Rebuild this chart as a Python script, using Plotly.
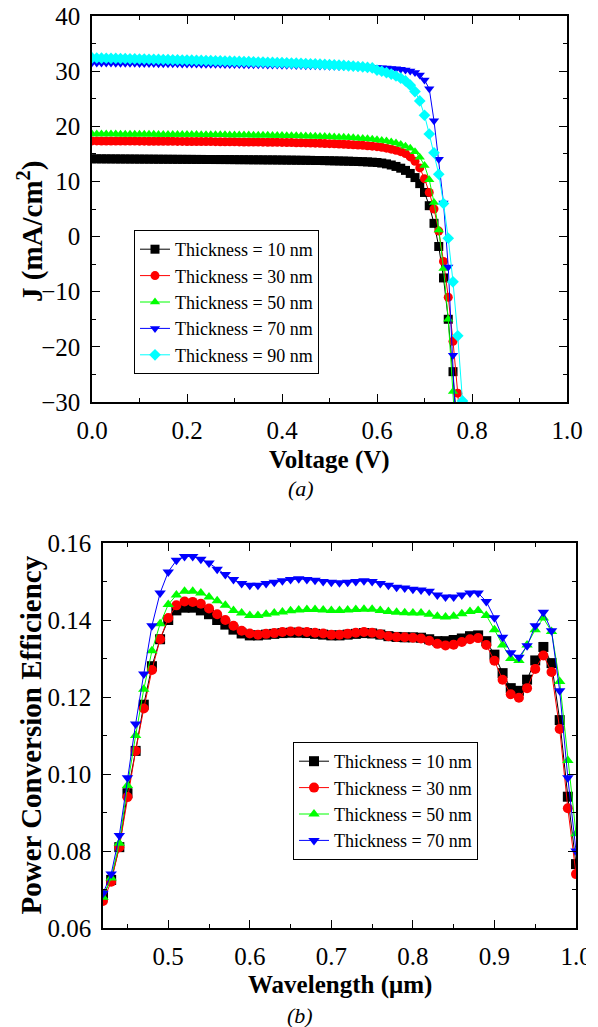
import plotly.graph_objects as go

W, H = 598, 1027
SERIF = "Liberation Serif, Times New Roman, serif"

# ---------------- (a) J-V data ----------------
voltage = [0.00, 0.01, 0.02, 0.03, 0.04, 0.05, 0.06, 0.07, 0.08, 0.09,
           0.10, 0.11, 0.12, 0.13, 0.14, 0.15, 0.16, 0.17, 0.18, 0.19,
           0.20, 0.21, 0.22, 0.23, 0.24, 0.25, 0.26, 0.27, 0.28, 0.29,
           0.30, 0.31, 0.32, 0.33, 0.34, 0.35, 0.36, 0.37, 0.38, 0.39,
           0.40, 0.41, 0.42, 0.43, 0.44, 0.45, 0.46, 0.47, 0.48, 0.49,
           0.50, 0.51, 0.52, 0.53, 0.54, 0.55, 0.56, 0.57, 0.58, 0.59,
           0.60, 0.61, 0.62, 0.63, 0.64, 0.65, 0.66, 0.67, 0.68, 0.69,
           0.70, 0.71, 0.72, 0.73, 0.74, 0.75, 0.76, 0.77, 0.78, 0.79]

j_10 = [14.10, 14.10, 14.09, 14.09, 14.08, 14.08, 14.07, 14.07, 14.06, 14.06,
        14.05, 14.05, 14.04, 14.04, 14.03, 14.03, 14.02, 14.02, 14.01, 14.01,
        14.00, 14.00, 13.99, 13.99, 13.98, 13.98, 13.97, 13.97, 13.96, 13.96,
        13.95, 13.94, 13.94, 13.93, 13.92, 13.92, 13.91, 13.90, 13.90, 13.89,
        13.88, 13.87, 13.86, 13.85, 13.84, 13.83, 13.82, 13.80, 13.79, 13.77,
        13.75, 13.73, 13.71, 13.69, 13.67, 13.64, 13.61, 13.58, 13.54, 13.49,
        13.43, 13.33, 13.18, 12.98, 12.72, 12.40, 12.00, 11.45, 10.70, 9.60,
        8.00, 5.60, 2.40, -1.80, -7.50, -15.00, -24.50, -35.50]

j_30 = [17.35, 17.35, 17.34, 17.34, 17.33, 17.33, 17.32, 17.32, 17.31, 17.31,
        17.30, 17.30, 17.29, 17.29, 17.28, 17.28, 17.27, 17.27, 17.26, 17.26,
        17.25, 17.24, 17.24, 17.23, 17.22, 17.22, 17.21, 17.20, 17.20, 17.19,
        17.18, 17.17, 17.16, 17.15, 17.14, 17.13, 17.12, 17.11, 17.10, 17.09,
        17.07, 17.06, 17.04, 17.02, 17.00, 16.98, 16.96, 16.94, 16.91, 16.88,
        16.85, 16.82, 16.78, 16.74, 16.70, 16.65, 16.60, 16.54, 16.47, 16.39,
        16.30, 16.18, 16.03, 15.85, 15.64, 15.40, 15.05, 14.45, 13.65, 12.45,
        10.50, 8.00, 5.00, 1.00, -4.50, -11.00, -19.00, -28.40, -40.00]

j_50 = [18.60, 18.60, 18.59, 18.59, 18.58, 18.58, 18.57, 18.57, 18.56, 18.56,
        18.55, 18.55, 18.54, 18.54, 18.53, 18.53, 18.52, 18.52, 18.51, 18.51,
        18.50, 18.49, 18.49, 18.48, 18.47, 18.47, 18.46, 18.45, 18.45, 18.44,
        18.43, 18.42, 18.41, 18.40, 18.39, 18.38, 18.37, 18.36, 18.35, 18.33,
        18.32, 18.30, 18.29, 18.27, 18.25, 18.23, 18.21, 18.19, 18.16, 18.13,
        18.10, 18.07, 18.03, 17.99, 17.95, 17.90, 17.85, 17.79, 17.72, 17.64,
        17.55, 17.44, 17.31, 17.15, 16.95, 16.70, 16.40, 16.00, 15.40, 14.40,
        12.90, 10.30, 6.20, 1.20, -5.80, -15.00, -28.10, -42.00]

j_70 = [31.50, 31.49, 31.48, 31.47, 31.46, 31.45, 31.44, 31.43, 31.42, 31.41,
        31.40, 31.39, 31.38, 31.37, 31.36, 31.35, 31.34, 31.33, 31.32, 31.31,
        31.30, 31.29, 31.28, 31.27, 31.26, 31.25, 31.24, 31.23, 31.22, 31.21,
        31.20, 31.19, 31.18, 31.17, 31.16, 31.15, 31.14, 31.12, 31.11, 31.10,
        31.08, 31.07, 31.05, 31.04, 31.02, 31.00, 30.98, 30.96, 30.94, 30.92,
        30.90, 30.88, 30.86, 30.84, 30.82, 30.80, 30.77, 30.74, 30.71, 30.68,
        30.64, 30.60, 30.55, 30.49, 30.42, 30.33, 30.20, 30.02, 29.75, 29.30,
        28.40, 26.80, 21.00, 14.00, 6.10, -5.50, -21.50, -42.00]

j_90 = [32.40, 32.38, 32.36, 32.34, 32.32, 32.30, 32.28, 32.26, 32.24, 32.22,
        32.20, 32.18, 32.16, 32.14, 32.12, 32.10, 32.08, 32.06, 32.04, 32.02,
        32.00, 31.98, 31.96, 31.94, 31.92, 31.90, 31.87, 31.85, 31.83, 31.81,
        31.78, 31.76, 31.74, 31.71, 31.69, 31.66, 31.64, 31.61, 31.58, 31.56,
        31.53, 31.50, 31.47, 31.44, 31.41, 31.37, 31.34, 31.30, 31.26, 31.22,
        31.18, 31.13, 31.08, 31.03, 30.97, 30.91, 30.84, 30.76, 30.68, 30.58,
        30.20, 29.98, 29.74, 29.46, 29.12, 28.72, 28.22, 27.45, 26.30, 24.60,
        22.00, 18.60, 15.20, 11.30, 6.00, -0.30, -8.20, -18.00, -29.80, -42.00]

jv_labels = ["Thickness = 10 nm", "Thickness = 30 nm", "Thickness = 50 nm",
             "Thickness = 70 nm", "Thickness = 90 nm"]

# ---------------- (b) PCE data ----------------
wavelength = [0.42, 0.43, 0.44, 0.45, 0.46, 0.47, 0.48, 0.49, 0.50, 0.51,
              0.52, 0.53, 0.54, 0.55, 0.56, 0.57, 0.58, 0.59, 0.60, 0.61,
              0.62, 0.63, 0.64, 0.65, 0.66, 0.67, 0.68, 0.69, 0.70, 0.71,
              0.72, 0.73, 0.74, 0.75, 0.76, 0.77, 0.78, 0.79, 0.80, 0.81,
              0.82, 0.83, 0.84, 0.85, 0.86, 0.87, 0.88, 0.89, 0.90, 0.91,
              0.92, 0.93, 0.94, 0.95, 0.96, 0.97, 0.98, 0.99, 1.00]

pce_10 = [0.0685, 0.0725, 0.0810, 0.0950, 0.1060, 0.1180, 0.1280, 0.1350, 0.1400, 0.1425,
          0.1432, 0.1432, 0.1425, 0.1415, 0.1400, 0.1388, 0.1375, 0.1365, 0.1360, 0.1360,
          0.1362, 0.1364, 0.1366, 0.1367, 0.1367, 0.1366, 0.1364, 0.1362, 0.1360, 0.1360,
          0.1362, 0.1364, 0.1366, 0.1365, 0.1362, 0.1358, 0.1356, 0.1355, 0.1355, 0.1354,
          0.1350, 0.1345, 0.1345, 0.1348, 0.1352, 0.1358, 0.1360, 0.1345, 0.1310, 0.1262,
          0.1223, 0.1216, 0.1245, 0.1295, 0.1330, 0.1288, 0.1140, 0.0941, 0.0766]

pce_30 = [0.0670, 0.0720, 0.0810, 0.0940, 0.1060, 0.1170, 0.1270, 0.1350, 0.1405, 0.1438,
          0.1448, 0.1447, 0.1442, 0.1430, 0.1415, 0.1400, 0.1385, 0.1372, 0.1365, 0.1362,
          0.1364, 0.1366, 0.1369, 0.1370, 0.1370, 0.1369, 0.1367, 0.1365, 0.1362, 0.1362,
          0.1364, 0.1367, 0.1369, 0.1367, 0.1363, 0.1358, 0.1356, 0.1355, 0.1354, 0.1352,
          0.1346, 0.1338, 0.1334, 0.1336, 0.1343, 0.1350, 0.1353, 0.1335, 0.1294, 0.1245,
          0.1207, 0.1198, 0.1223, 0.1273, 0.1308, 0.1265, 0.1117, 0.0911, 0.0740]

pce_50 = [0.0680, 0.0730, 0.0820, 0.0970, 0.1100, 0.1220, 0.1320, 0.1390, 0.1440, 0.1465,
          0.1475, 0.1475, 0.1470, 0.1460, 0.1450, 0.1438, 0.1425, 0.1418, 0.1412, 0.1412,
          0.1415, 0.1418, 0.1421, 0.1424, 0.1426, 0.1427, 0.1427, 0.1426, 0.1425, 0.1425,
          0.1426, 0.1427, 0.1428, 0.1428, 0.1425, 0.1422, 0.1420, 0.1419, 0.1418, 0.1418,
          0.1415, 0.1410, 0.1408, 0.1410, 0.1416, 0.1422, 0.1425, 0.1412, 0.1375, 0.1335,
          0.1300, 0.1295, 0.1335, 0.1375, 0.1405, 0.1370, 0.1240, 0.1035, 0.0845]

pce_70 = [0.0690, 0.0740, 0.0840, 0.0990, 0.1130, 0.1260, 0.1385, 0.1470, 0.1525, 0.1555,
          0.1565, 0.1565, 0.1558, 0.1548, 0.1532, 0.1518, 0.1505, 0.1495, 0.1490, 0.1490,
          0.1495, 0.1498, 0.1502, 0.1505, 0.1507, 0.1505, 0.1503, 0.1500, 0.1498, 0.1497,
          0.1498, 0.1500, 0.1502, 0.1500, 0.1495, 0.1490, 0.1485, 0.1483, 0.1480, 0.1478,
          0.1475, 0.1465, 0.1460, 0.1460, 0.1465, 0.1470, 0.1470, 0.1448, 0.1406, 0.1355,
          0.1315, 0.1303, 0.1333, 0.1385, 0.1420, 0.1372, 0.1216, 0.0990, 0.0800]

pce_labels = ["Thickness = 10 nm", "Thickness = 30 nm", "Thickness = 50 nm",
              "Thickness = 70 nm"]

colors = ["#000000", "#FF0000", "#00FF00", "#0000FF", "#00FFFF"]
symbols = ["square", "circle", "triangle-up", "triangle-down", "diamond"]


def px(x):
    return x / W


def py(y):
    return 1 - y / H


fig = go.Figure()

for lab, jv, c, s in zip(jv_labels, [j_10, j_30, j_50, j_70, j_90], colors, symbols):
    fig.add_trace(go.Scatter(
        x=voltage[:len(jv)], y=jv, name=lab, mode="lines+markers",
        line=dict(color=c, width=1),
        marker=dict(symbol=s, size=9, color=c, line=dict(width=0)),
        xaxis="x", yaxis="y", legend="legend"))

for lab, pv, c, s in zip(pce_labels, [pce_10, pce_30, pce_50, pce_70], colors, symbols):
    fig.add_trace(go.Scatter(
        x=wavelength, y=pv, name=lab, mode="lines+markers",
        line=dict(color=c, width=1),
        marker=dict(symbol=s, size=10, color=c, line=dict(width=0)),
        xaxis="x2", yaxis="y2", legend="legend2"))

axis_common = dict(
    showline=True, linecolor="black", linewidth=1.5, mirror="ticks",
    ticks="inside", ticklen=8, tickwidth=1.2, tickcolor="black",
    showgrid=False, zeroline=False, automargin=False,
    tickfont=dict(family=SERIF, size=25, color="black"),
    ticklabelstandoff=5,
)

fig.update_layout(
    template="none",
    width=W, height=H, margin=dict(l=0, r=0, t=0, b=0, autoexpand=False),
    paper_bgcolor="white", plot_bgcolor="white",
    font=dict(family=SERIF, color="black"),
    xaxis=dict(domain=[px(92), px(567)], range=[0, 1.0], dtick=0.2, tick0=0,
               tickformat=".1f", anchor="y",
               minor=dict(dtick=0.1, ticks="inside", ticklen=4, tickcolor="black"),
               **axis_common),
    yaxis=dict(domain=[py(402), py(16)], range=[-30, 40], dtick=10, tick0=0,
               anchor="x",
               minor=dict(dtick=5, ticks="inside", ticklen=4, tickcolor="black"),
               **axis_common),
    xaxis2=dict(domain=[px(103), px(576)], range=[0.42, 1.0], dtick=0.1, tick0=0,
                tickformat=".1f", anchor="y2",
                minor=dict(dtick=0.05, ticks="inside", ticklen=4, tickcolor="black"),
                **axis_common),
    yaxis2=dict(domain=[py(928), py(543)], range=[0.06, 0.16], dtick=0.02, tick0=0,
                tickformat=".2f", anchor="x2",
                minor=dict(dtick=0.01, ticks="inside", ticklen=4, tickcolor="black"),
                **axis_common),
    legend=dict(x=px(134), y=py(230), xanchor="left", yanchor="top",
                bgcolor="white", bordercolor="black", borderwidth=1,
                font=dict(family=SERIF, size=18, color="black"),
                tracegroupgap=0, itemwidth=30),
    legend2=dict(x=px(293), y=py(742), xanchor="left", yanchor="top",
                 bgcolor="white", bordercolor="black", borderwidth=1,
                 font=dict(family=SERIF, size=18, color="black"),
                 tracegroupgap=0, itemwidth=30),
    showlegend=True,
)

ann_font = dict(family=SERIF, size=25, color="black")
ytitle_font = dict(family=SERIF, size=29, color="black")
annotations = [
    dict(text="<b>Voltage (V)</b>", x=px(329.5), y=py(460), font=ann_font),
    dict(text="<i>(a)</i>", x=px(301), y=py(489), font=dict(family=SERIF, size=22, color="black")),
    dict(text="<b>J (mA/cm<sup>2</sup>)</b>", x=px(30), y=py(232), textangle=-90, font=ytitle_font),
    dict(text="<b>Wavelength (μm)</b>", x=px(340), y=py(985), font=ann_font),
    dict(text="<i>(b)</i>", x=px(300), y=py(1015), font=dict(family=SERIF, size=22, color="black")),
    dict(text="<b>Power Conversion Efficiency</b>", x=px(30), y=py(735.5), textangle=-90, font=ytitle_font),
]
for a in annotations:
    a.update(xref="paper", yref="paper", showarrow=False, xanchor="center", yanchor="middle")
fig.update_layout(annotations=annotations)

# the reference picture is cut off at its right edge, which clips the last tick label
fig.add_shape(type="rect", xref="paper", yref="paper", x0=px(586), x1=1.0,
              y0=py(965), y1=py(930), fillcolor="white", line=dict(width=0), layer="above")

fig.write_html("out.html")
